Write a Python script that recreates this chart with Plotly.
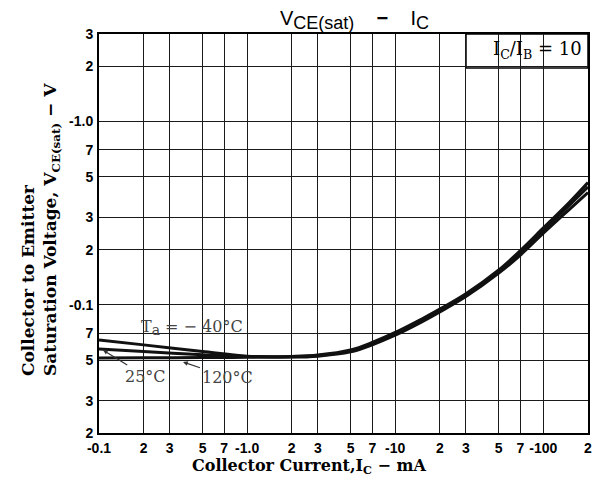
import plotly.graph_objects as go
import math

# ---- data ----
ic_ma = [0.1, 0.2, 0.5, 1, 2, 3, 5, 7, 10, 15, 20, 30, 50, 70, 100, 150, 200]
v_m40 = [0.0644, 0.0605, 0.0556, 0.0525, 0.0519, 0.0525, 0.0554, 0.0606, 0.0683, 0.0805, 0.0915, 0.111, 0.149, 0.187, 0.246, 0.332, 0.410]
v_25 = [0.0575, 0.0556, 0.0535, 0.0523, 0.0521, 0.0529, 0.0561, 0.0615, 0.0695, 0.082, 0.093, 0.113, 0.152, 0.193, 0.255, 0.350, 0.440]
v_120 = [0.0513, 0.0514, 0.0516, 0.0518, 0.0523, 0.0533, 0.0568, 0.0624, 0.0707, 0.0835, 0.0948, 0.115, 0.155, 0.198, 0.263, 0.363, 0.465]

x_tickvals = [0.1, 0.2, 0.3, 0.5, 0.7, 1, 2, 3, 5, 7, 10, 20, 30, 50, 70, 100, 200]
x_ticktext = ["-0.1", "2", "3", "5", "7", "-1.0", "2", "3", "5", "7", "-10", "2", "3", "5", "7", "-100", "2"]
y_tickvals = [0.02, 0.03, 0.05, 0.07, 0.1, 0.2, 0.3, 0.5, 0.7, 1, 2, 3]
y_ticktext = ["2", "3", "5", "7", "-0.1", "2", "3", "5", "7", "-1.0", "2", "3"]

W, H = 595, 487
L, R, T, B = 99, 7, 34, 54
PW, PH = W - L - R, H - T - B

def px(x):
    return (x - L) / PW

def py(y):
    return (H - B - y) / PH

fig = go.Figure()
for v in (v_m40, v_25, v_120):
    fig.add_trace(go.Scatter(x=ic_ma, y=v, mode="lines",
                             line=dict(color="#111", width=3, shape="spline"),
                             showlegend=False, hoverinfo="skip"))

serif = "DejaVu Serif"
sans = "Liberation Sans"

# white box behind I_C/I_B label (covers gridlines)
fig.add_shape(type="rect", xref="paper", yref="paper",
              x0=px(466), x1=1, y0=py(68), y1=1,
              fillcolor="white", line=dict(color="black", width=1.5), layer="between")

sp = "&nbsp;" * 4
annotations = [
    dict(text="V<sub><span style='font-size:18px'>CE(sat)</span></sub>" + sp + "<b>−</b>" + sp +
              "I<sub><span style='font-size:18px'>C</span></sub>",
         x=px(354), y=py(20),
         font=dict(family=sans, size=20, color="black"), showarrow=False),
    dict(text="I<sub>C</sub>/I<sub>B</sub> = 10", x=px(537), y=py(50),
         font=dict(family=serif, size=18, color="black"), showarrow=False),
    dict(text="Collector Current,I<sub>C</sub> − mA", x=px(309), y=py(466),
         font=dict(family=serif, size=16, color="black", weight="bold"), showarrow=False),
    dict(text="Collector to Emitter<br>Saturation Voltage, V<sub>CE(sat)</sub> − V",
         x=px(40), y=py(230), textangle=-90, align="left",
         font=dict(family=serif, size=17, color="black", weight="bold"), showarrow=False),
    dict(text="T<sub><span style='font-size:14px'>a</span></sub> = − 40°C", x=px(192), y=py(327),
         font=dict(family=serif, size=16, color="#444"), showarrow=False),
    dict(text="25°C", x=px(103), y=py(350), ax=42, ay=26,
         font=dict(family=serif, size=16, color="#444"), showarrow=True,
         arrowhead=2, arrowsize=0.8, arrowwidth=1.2, arrowcolor="#333"),
    dict(text="120°C", x=px(183), y=py(362), ax=44, ay=15,
         font=dict(family=serif, size=16, color="#444"), showarrow=True,
         arrowhead=2, arrowsize=0.8, arrowwidth=1.2, arrowcolor="#333"),
]
for a in annotations:
    a.update(xref="paper", yref="paper", xanchor="center", yanchor="middle")
fig.update_layout(annotations=annotations)

axis_common = dict(showgrid=True, gridcolor="#1a1a1a", gridwidth=1,
                   showline=True, linecolor="black", linewidth=2, mirror=True,
                   ticks="", zeroline=False, automargin=False,
                   tickfont=dict(family=sans, size=14, color="black", weight="bold"))

fig.update_xaxes(type="log", range=[math.log10(0.1), math.log10(200) + 0.0005],
                 tickmode="array", tickvals=x_tickvals, ticktext=x_ticktext,
                 ticklabelstandoff=1, **axis_common)
fig.update_yaxes(type="log", range=[math.log10(0.02), math.log10(3) + 0.0005],
                 tickmode="array", tickvals=y_tickvals, ticktext=y_ticktext,
                 ticklabelstandoff=1, **axis_common)

fig.update_layout(width=W, height=H, margin=dict(l=L, r=R, t=T, b=B),
                  paper_bgcolor="white", plot_bgcolor="white")

fig.write_html("out.html", config={"displayModeBar": False},
               post_script="document.body.style.margin='0px';")
